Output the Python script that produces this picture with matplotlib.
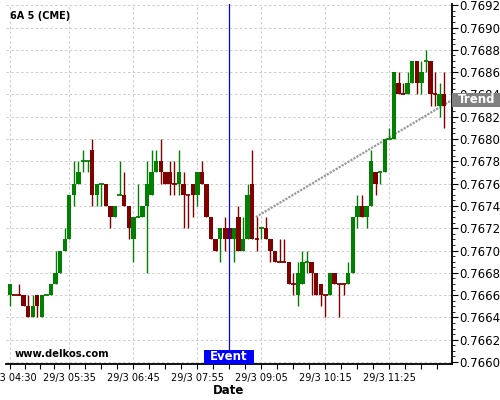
import matplotlib
matplotlib.use("Agg")
import matplotlib.pyplot as plt
import matplotlib.transforms as mtransforms
from matplotlib.patches import Rectangle
import numpy as np

# 6A 5 min bars, 29/3 04:30 .. 12:25, prices in pips above 0.7660
base = 0.7660
pip = 0.0001
opens = [6, 6, 6, 6, 5, 4, 6, 4, 6, 6, 7, 8, 10, 11, 15, 16, 18, 18, 19, 15,
         16, 16, 14, 13, 15, 15, 14, 11, 13, 13, 14, 15, 17, 18, 17, 17, 16, 16, 16, 15,
         16, 15, 17, 16, 13, 11, 11, 12, 12, 11, 13, 10, 11, 16, 11, 12, 12, 11, 10, 9,
         9, 9, 7, 6, 7, 9, 9, 8, 7, 6, 6, 8, 7, 7, 7, 8, 13, 14, 13, 14,
         17, 17, 17, 20, 20, 25, 24, 24, 25, 27, 25, 27, 27, 24, 23, 24]
closes = [7, 6, 6, 5, 4, 5, 5, 6, 6, 7, 8, 10, 11, 15, 16, 17, 18, 18, 15, 16,
          16, 14, 13, 14, 15, 14, 12, 13, 13, 14, 16, 17, 18, 17, 16, 16, 16, 17, 15, 15,
          15, 17, 16, 13, 11, 10, 12, 11, 11, 12, 10, 11, 15, 11, 11, 12, 11, 10, 9, 9,
          9, 7, 7, 8, 9, 9, 8, 6, 6, 6, 8, 7, 7, 7, 8, 13, 14, 13, 14, 18,
          16, 17, 20, 20, 26, 24, 24, 25, 27, 25, 26, 27, 24, 24, 24, 23]
highs = [7, 6, 7, 6, 6, 6, 6, 6, 6, 7, 10, 10, 12, 15, 18, 18, 19, 18, 20, 16,
         16, 16, 14, 14, 18, 17, 14, 13, 16, 14, 18, 19, 19, 20, 17, 18, 18, 19, 17, 15,
         16, 17, 18, 16, 13, 11, 12, 13, 12, 12, 14, 13, 16, 19, 13, 12, 13, 11, 10, 11,
         11, 9, 8, 9, 10, 10, 9, 8, 7, 6, 8, 8, 7, 7, 9, 13, 15, 15, 14, 19,
         17, 17, 20, 21, 26, 26, 25, 26, 27, 27, 27, 28, 27, 26, 25, 26]
lows = [5, 6, 6, 5, 4, 4, 4, 4, 6, 6, 7, 8, 10, 11, 14, 16, 17, 17, 14, 14,
        14, 14, 12, 13, 15, 14, 11, 9, 13, 13, 8, 15, 17, 16, 16, 15, 15, 15, 12, 12,
        13, 14, 16, 13, 11, 10, 9, 10, 11, 9, 10, 10, 11, 11, 10, 11, 11, 9, 9, 9,
        9, 7, 6, 5, 7, 8, 6, 6, 5, 4, 6, 7, 4, 6, 7, 8, 12, 13, 12, 14,
        15, 16, 17, 20, 20, 24, 24, 24, 25, 24, 24, 26, 23, 23, 22, 21]
# bars with open == close that are drawn green
green_doji = [8, 16, 17, 20, 24, 28, 55, 65, 81, 83, 91]

tick_pos = [0, 13, 27, 41, 55, 69, 83]
tick_labels = ["29/3 04:30", "29/3 05:35", "29/3 06:45", "29/3 07:55",
               "29/3 09:05", "29/3 10:15", "29/3 11:25"]
event_pos = 48
trend_x = [53.8, 96.7]
trend_y = [0.76730, 0.76835]
y_ticks = [0.7660, 0.7662, 0.7664, 0.7666, 0.7668, 0.7670, 0.7672, 0.7674, 0.7676,
           0.7678, 0.7680, 0.7682, 0.7684, 0.7686, 0.7688, 0.7690, 0.7692]

o = base + np.array(opens) * pip
c = base + np.array(closes) * pip
h = base + np.array(highs) * pip
l = base + np.array(lows) * pip
x = np.arange(len(o))

up = np.array(closes) > np.array(opens)
up[green_doji] = True
cols = np.where(up, "#008000", "#800000")
doji = np.array(closes) == np.array(opens)

fig = plt.figure(figsize=(5, 4), dpi=100)
ax = fig.add_axes([0.012, 0.09, 0.892, 0.90])

ax.plot(trend_x, trend_y, color="#999999", lw=1.6, ls=(0, (1.0, 0.55)), zorder=1.5)

ax.vlines(x, l, h, colors=cols, lw=1.0, zorder=2)
body = ~doji
ax.bar(x[body], np.abs(c - o)[body], bottom=np.minimum(o, c)[body], width=0.95,
       color=cols[body], linewidth=0, zorder=3)
ax.hlines(o[doji], x[doji] - 0.48, x[doji] + 0.48, colors=cols[doji], lw=1.3, zorder=3)

ax.axvline(event_pos, color="#0000ff", lw=0.9, zorder=4)

ax.set_xlim(-0.85, 96.7)
ax.set_ylim(0.765982, 0.769211)

ax.set_xticks(tick_pos)
ax.set_xticklabels(tick_labels)
minor = []
for a, b in zip(tick_pos[:-1], tick_pos[1:]):
    minor += list(np.linspace(a, b, 5)[1:-1])
minor += [tick_pos[-1] + 3.5, tick_pos[-1] + 7, tick_pos[-1] + 10.5]
ax.set_xticks(minor, minor=True)

ax.yaxis.tick_right()
ax.set_yticks(y_ticks)
ax.set_yticklabels(["%.4f" % v for v in y_ticks])
ax.set_yticks(np.arange(0.76605, 0.7692, 0.0001 / 2), minor=True)

ax.tick_params(axis="x", which="both", labelsize=7, length=3.5, width=0.8, pad=3)
ax.tick_params(axis="y", which="major", labelsize=8.5, length=4, width=0.8, pad=1)
ax.tick_params(axis="y", which="minor", length=2, width=0.6)

ax.grid(True, which="major", color="#cccccc", ls=(0, (2.5, 2.5)), lw=0.7)
ax.set_axisbelow(True)

for s in ["left", "top"]:
    ax.spines[s].set_visible(False)
for s in ["bottom", "right"]:
    ax.spines[s].set_linewidth(1.3)

ax.set_xlabel("Date", fontsize=8.5, fontweight="bold", labelpad=1)

ax.text(0.009, 0.9675, "6A 5 (CME)", transform=ax.transAxes, fontsize=7,
        fontweight="bold", va="center", ha="left")
ax.text(0.02, 0.028, "www.delkos.com", transform=ax.transAxes, fontsize=7.2,
        fontweight="bold", va="center", ha="left")

# trend tag on the price axis
tr = mtransforms.blended_transform_factory(ax.transAxes, ax.transData)
ax.add_patch(Rectangle((1.0, trend_y[1] - 0.00006), 0.115, 0.00012, transform=tr,
                       fc="#808080", ec="none", clip_on=False, zorder=6))
ax.text(1.056, trend_y[1], "Trend", transform=tr, fontsize=8.5, fontweight="bold",
        color="white", va="center", ha="center", clip_on=False, zorder=7)

# event tag at the bottom of the event line
te = mtransforms.blended_transform_factory(ax.transData, ax.transAxes)
ax.add_patch(Rectangle((event_pos - 5.5, 0.0), 10.8, 0.039, transform=te,
                       fc="#0000ff", ec="none", zorder=5))
ax.text(event_pos - 0.1, 0.0195, "Event", transform=te, fontsize=8.5, fontweight="bold",
        color="white", va="center", ha="center", zorder=6)

fig.savefig("out.png", dpi=100)
